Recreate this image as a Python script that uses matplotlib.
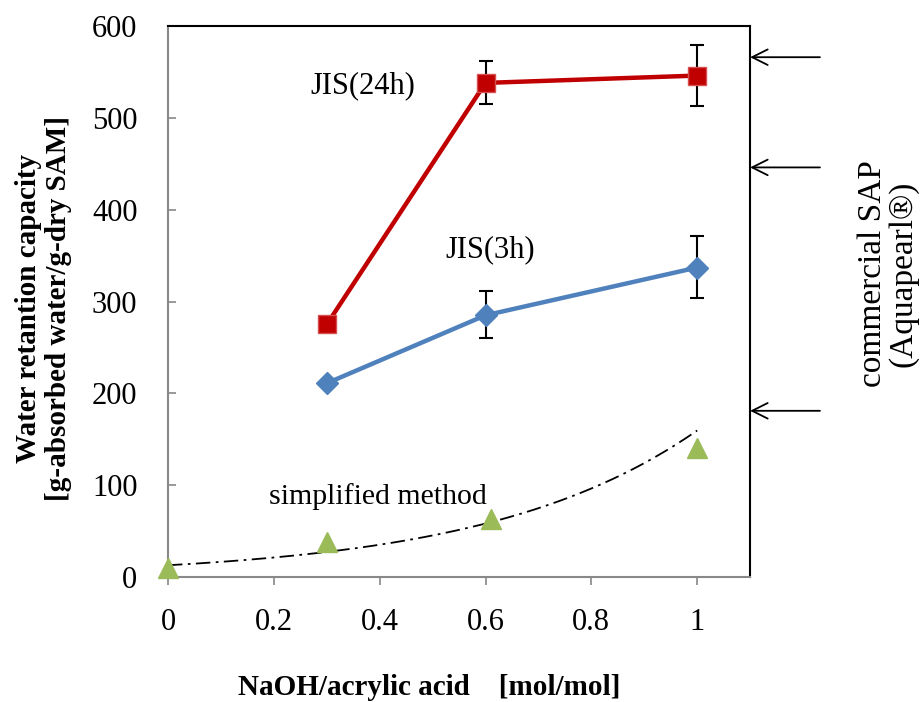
import numpy as np
import matplotlib
matplotlib.use("Agg")
import matplotlib.pyplot as plt

plt.rcParams['font.family'] = ['Liberation Serif', 'DejaVu Serif']

# JIS(24h)
x_24h = [0.3, 0.6, 1.0]
y_24h = [275, 538, 546]
err_24h_lo = [0, 23, 33]
err_24h_hi = [0, 24, 33]

# JIS(3h)
x_3h = [0.3, 0.6, 1.0]
y_3h = [211, 285, 337]
err_3h_lo = [0, 25, 33]
err_3h_hi = [0, 26, 34]

# simplified method
x_simple = [0.0, 0.3, 0.61, 1.0]
y_simple = [10, 38, 63, 140]

# commercial SAP (Aquapearl) levels
sap_levels = [566, 446, 181]

xticks = [0, 0.2, 0.4, 0.6, 0.8, 1]
yticks = [0, 100, 200, 300, 400, 500, 600]

fig = plt.figure(figsize=(9.24, 7.02), dpi=100)
ax = fig.add_axes([0.1818, 0.178, 0.63, 0.785])

# exponential trendline fitted to simplified-method points
k, b = np.polyfit(x_simple, np.log(y_simple), 1)
xt = np.linspace(0, 1, 200)
ax.plot(xt, np.exp(b) * np.exp(k * xt), color='black', lw=1.3, ls=(0, (8, 3, 1.5, 3)), zorder=2)

ax.errorbar(x_24h, y_24h, yerr=[err_24h_lo, err_24h_hi], fmt='none', ecolor='black',
            elinewidth=1.5, capsize=5, capthick=1.5, zorder=3)
ax.errorbar(x_3h, y_3h, yerr=[err_3h_lo, err_3h_hi], fmt='none', ecolor='black',
            elinewidth=1.5, capsize=5, capthick=1.5, zorder=3)

ax.plot(x_24h, y_24h, color='#C00000', lw=3.2, marker='s', markersize=13,
        markerfacecolor='#C00000', markeredgecolor='#D65050', markeredgewidth=1, zorder=4)
ax.plot(x_3h, y_3h, color='#4F81BD', lw=3.2, marker='D', markersize=11,
        markerfacecolor='#4F81BD', markeredgecolor='#4F81BD', zorder=4)
ax.plot(x_simple, y_simple, ls='none', marker='^', markersize=14,
        color='#9BBB59', zorder=5, clip_on=False)

ax.text(0.368, 535, 'JIS(24h)', fontsize=22, ha='center', va='center')
ax.text(0.608, 356, 'JIS(3h)', fontsize=22, ha='center', va='center')
ax.text(0.396, 88, 'simplified method', fontsize=21.5, ha='center', va='center')

ax.set_xlim(0, 1.1)
ax.set_ylim(0, 600)
ax.set_xticks(xticks)
ax.set_xticklabels(['0', '0.2', '0.4', '0.6', '0.8', '1'])
ax.set_yticks(yticks)

for side in ['left', 'bottom']:
    ax.spines[side].set_color('#888888')
    ax.spines[side].set_linewidth(1.5)
for side in ['top', 'right']:
    ax.spines[side].set_color('black')
    ax.spines[side].set_linewidth(1.5)

ax.tick_params(axis='x', direction='out', length=6, width=1.2, color='#888888',
               labelsize=22, pad=16)
ax.tick_params(axis='y', direction='in', length=6, width=1.2, color='#888888',
               labelsize=22, pad=22)

# arrows for commercial SAP, outside the plot on the right
trans = ax.get_yaxis_transform()
for lv in sap_levels:
    ax.annotate('', xy=(1.0, lv), xycoords=trans, xytext=(1.12, lv), textcoords=trans,
                arrowprops=dict(arrowstyle='->', color='black', lw=1.3,
                                mutation_scale=28, shrinkA=0, shrinkB=0))
ax.text(1.237, 330, 'commercial SAP\n(Aquapearl\u00ae)', transform=trans, rotation=90,
        fontsize=24, ha='center', va='center', linespacing=1.0)

fig.text(0.047, 0.56, 'Water retantion capacity\n[g-absorbed water/g-dry SAM]',
         rotation=90, fontsize=21, fontweight='bold', ha='center', va='center',
         linespacing=1.15)
fig.text(0.465, 0.02, 'NaOH/acrylic acid    [mol/mol]', fontsize=21,
         fontweight='bold', ha='center', va='center')

fig.savefig('out.png', dpi=100)
